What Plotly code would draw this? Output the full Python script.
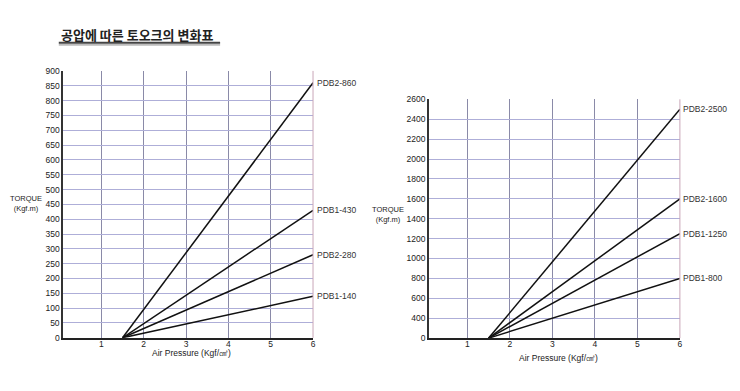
import plotly.graph_objects as go

# ---- data ----
left_x = [1.5, 6]
left_names = ["PDB2-860", "PDB1-430", "PDB2-280", "PDB1-140"]
left_end = [860, 430, 280, 140]
left_start = 0
left_yticks = list(range(0, 901, 50))
xticks = [1, 2, 3, 4, 5, 6]

right_x = [1.5, 6]
right_names = ["PDB2-2500", "PDB2-1600", "PDB1-1250", "PDB1-800"]
right_end = [2500, 1600, 1250, 800]
right_start = 200  # bottom gridline of the chart (labelled "0")
right_yticks = list(range(200, 2601, 200))
right_yticktext = ["0"] + [str(v) for v in range(400, 2601, 200)]

title_text = "공압에 따른 토오크의 변화표"
ytitle = "TORQUE<br>(Kgf.m)"
xtitle = "Air Pressure (Kgf/㎠)"

# page is 740x391; body has a default 8px margin
OFF = 8
W, H = 740 - 2 * OFF, 391 - 2 * OFF


def px(x):
    return (x - OFF) / W


def py(y):
    return 1 - (y - OFF) / H


FONT = "Liberation Sans, Arial, sans-serif"
HGRID = "#aeaed8"
VGRID = "#8a8aa8"

fig = go.Figure()

for name, end in zip(left_names, left_end):
    fig.add_trace(go.Scatter(x=left_x, y=[left_start, end], mode="lines",
                             line=dict(color="#111", width=1.5), name=name,
                             xaxis="x", yaxis="y", showlegend=False,
                             hoverinfo="skip"))
    fig.add_annotation(x=6, y=end, xref="x", yref="y", text=name,
                       showarrow=False, xanchor="left", yanchor="middle",
                       xshift=1.5,
                       font=dict(size=8.5, color="#333", family=FONT))

for name, end in zip(right_names, right_end):
    fig.add_trace(go.Scatter(x=right_x, y=[right_start, end], mode="lines",
                             line=dict(color="#111", width=1.5), name=name,
                             xaxis="x2", yaxis="y2", showlegend=False,
                             hoverinfo="skip"))
    fig.add_annotation(x=6, y=end, xref="x2", yref="y2", text=name,
                       showarrow=False, xanchor="left", yanchor="middle",
                       xshift=1.5,
                       font=dict(size=8.5, color="#333", family=FONT))

tickfont = dict(size=8.5, color="#222", family=FONT)


def xaxis_cfg(domain, anchor):
    return dict(domain=domain, anchor=anchor, range=[0.095, 6],
                tickvals=xticks, showgrid=True, gridcolor=VGRID, gridwidth=1,
                showline=True, linecolor="#222", linewidth=2, zeroline=False,
                ticks="", tickfont=tickfont, fixedrange=True,
                ticklabelstandoff=-3)


def yaxis_cfg(domain, anchor, rng, tickvals, ticktext=None):
    d = dict(domain=domain, anchor=anchor, range=rng, tickvals=tickvals,
             showgrid=True, gridcolor=HGRID, gridwidth=1,
             showline=True, linecolor="#333", linewidth=1.5, zeroline=False,
             ticks="", tickfont=tickfont, fixedrange=True)
    if ticktext:
        d["ticktext"] = ticktext
    return d


ld = [px(63.3), px(314.3)]
lyd = [py(341.7), py(67.5)]
rd = [px(430.7), px(682.7)]
ryd = [py(342), py(96.7)]

fig.update_layout(
    width=W, height=H, margin=dict(l=0, r=0, t=0, b=0),
    paper_bgcolor="white", plot_bgcolor="white",
    xaxis=xaxis_cfg(ld, "y"),
    yaxis=yaxis_cfg(lyd, "x", [0, 900], left_yticks),
    xaxis2=xaxis_cfg(rd, "y2"),
    yaxis2=yaxis_cfg(ryd, "x2", [200, 2600], right_yticks, right_yticktext),
)

# right border lines (pinkish) at x=6
for xr, yr in (("x domain", "y domain"), ("x2 domain", "y2 domain")):
    fig.add_shape(type="line", xref=xr, yref=yr, x0=1, x1=1, y0=0, y1=1,
                  line=dict(color="#c9a6b8", width=1))

# axis titles
fig.add_annotation(x=px(26), y=py(204), xref="paper", yref="paper",
                   text=ytitle, showarrow=False, align="center",
                   xanchor="center", yanchor="middle",
                   font=dict(size=7.5, color="#222", family=FONT))
fig.add_annotation(x=px(390), y=py(215), xref="paper", yref="paper",
                   text=ytitle, showarrow=False, align="center",
                   xanchor="center", yanchor="middle",
                   font=dict(size=7.5, color="#222", family=FONT))
fig.add_annotation(x=px(192), y=py(357.5), xref="paper", yref="paper",
                   text=xtitle, showarrow=False,
                   xanchor="center", yanchor="middle",
                   font=dict(size=8.5, color="#222", family=FONT))
fig.add_annotation(x=px(561), y=py(362), xref="paper", yref="paper",
                   text=xtitle, showarrow=False,
                   xanchor="center", yanchor="middle",
                   font=dict(size=8.5, color="#222", family=FONT))

# title + underline
fig.add_annotation(x=px(59), y=py(30.5), xref="paper", yref="paper",
                   text="<b>" + title_text + "</b>", showarrow=False,
                   xanchor="left", yanchor="middle",
                   font=dict(size=13, color="#222",
                             family="Noto Sans CJK KR, sans-serif"))
fig.add_shape(type="line", xref="paper", yref="paper",
              x0=px(59), x1=px(221), y0=py(40.5), y1=py(40.5),
              line=dict(color="#bbbbbb", width=2))
fig.add_shape(type="line", xref="paper", yref="paper",
              x0=px(59), x1=px(221), y0=py(38.5), y1=py(38.5),
              line=dict(color="#444", width=2))

fig.write_html("out.html")
